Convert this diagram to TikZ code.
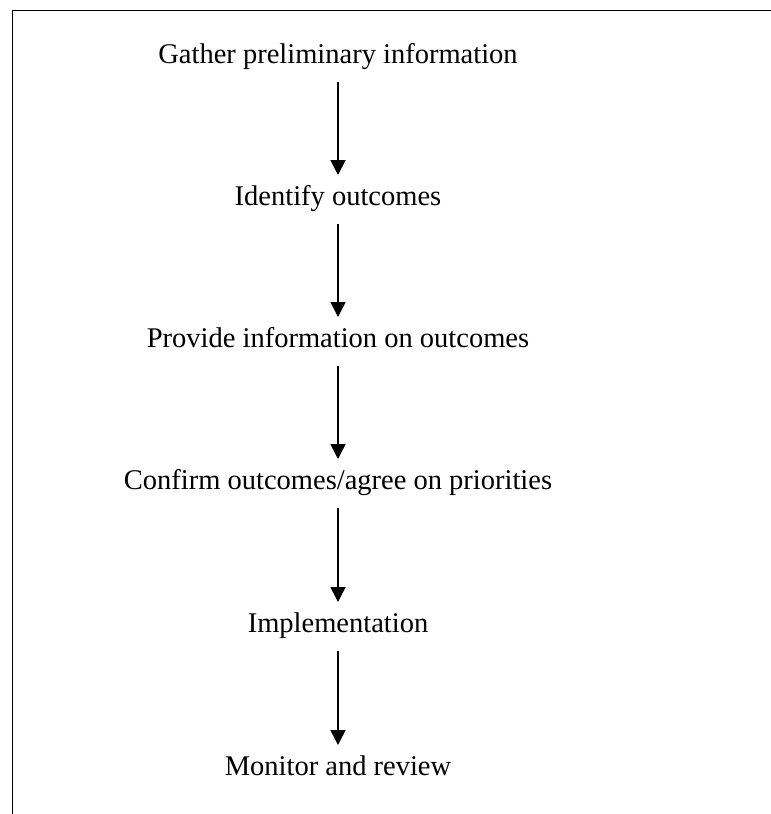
\documentclass[tikz,border=0pt]{standalone}
\usepackage{fontspec}
\setmainfont{Liberation Serif}
\usetikzlibrary{arrows.meta}
\begin{document}
\begin{tikzpicture}[x=1pt,y=-1pt,
  stage/.style={inner sep=0pt,anchor=base,font=\fontsize{28.5}{34}\selectfont},
  flow/.style={line width=1.6pt,-{Triangle[width=15pt,length=15pt]}},
  frame/.style={line width=1.6pt}]
  \useasboundingbox (0,0) rectangle (771,814);
  % open frame: top and left edges
  \coordinate (fr) at (771,10.5);
  \coordinate (fc) at (12.5,10.5);
  \coordinate (fb) at (12.5,814);
  \draw[frame] (fr) -- (fc) -- (fb);
  % process steps
  \node[stage] (s1) at (338,63)  {Gather preliminary information};
  \node[stage] (s2) at (338,205) {Identify outcomes};
  \node[stage] (s3) at (338,347) {Provide information on outcomes};
  \node[stage] (s4) at (338,489) {Confirm outcomes/agree on priorities};
  \node[stage] (s5) at (338,632) {Implementation};
  \node[stage] (s6) at (338,775) {Monitor and review};
  % connectors
  \foreach \a/\b in {s1/s2,s2/s3,s3/s4,s4/s5,s5/s6}
    \draw[flow] ([yshift=-19pt]\a.base) -- ([yshift=30pt]\b.base);
\end{tikzpicture}
\end{document}
